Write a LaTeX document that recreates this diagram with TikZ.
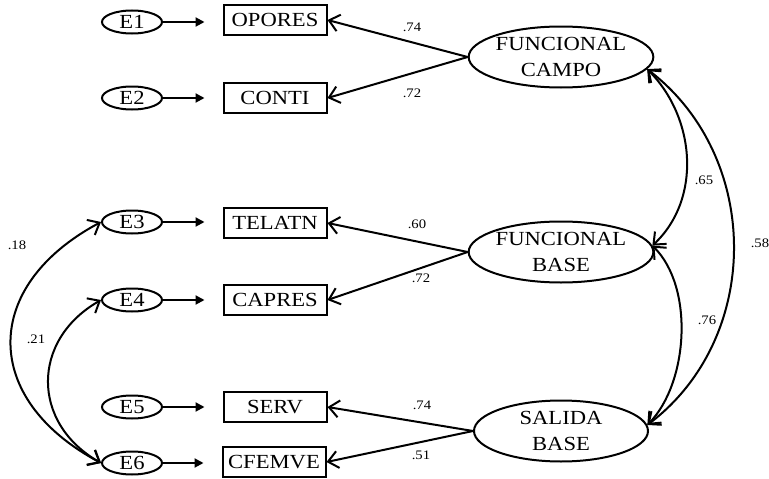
\documentclass[tikz,border=0pt]{standalone}
\usepackage{fontspec}
\setmainfont{Liberation Serif}[FakeStretch=1.13]
\usetikzlibrary{shapes.geometric,arrows.meta}
\tikzset{
  err/.style={draw,ellipse,line width=2pt,minimum width=60pt,minimum height=23pt,inner sep=0pt,font=\fontsize{20}{22}\selectfont},
  obs/.style={draw,rectangle,line width=2pt,minimum width=103pt,minimum height=30pt,inner sep=0pt,font=\fontsize{20}{22}\selectfont},
  lat/.style={draw,ellipse,line width=2pt,minimum width=174pt,minimum height=61pt,inner sep=0pt,align=center,font=\fontsize{20}{26}\selectfont},
  errarr/.style={line width=2pt,-{Triangle[length=9pt,width=9pt]},shorten >=18pt},
  load/.style={line width=2pt,-{Straight Barb[length=10pt,width=17pt,line width=2pt]}},
  cov/.style={line width=2pt,{Straight Barb[length=10pt,width=17pt,line width=2pt]}-{Straight Barb[length=10pt,width=17pt,line width=2pt]}},
  lbl/.style={font=\fontsize{13}{15}\selectfont,inner sep=0pt}
}
\begin{document}
\begin{tikzpicture}[x=1pt,y=-1pt]
\useasboundingbox (0,0) rectangle (769,479);
% error terms
\node[err] (e1) at (132,22) {E1};
\node[err] (e2) at (132,98) {E2};
\node[err] (e3) at (132,222) {E3};
\node[err] (e4) at (132,300) {E4};
\node[err] (e5) at (132,407) {E5};
\node[err] (e6) at (132,463) {E6};
% observed
\node[obs] (opores) at (275,20) {OPORES};
\node[obs] (conti) at (275,98) {CONTI};
\node[obs] (telatn) at (275,223) {TELATN};
\node[obs] (capres) at (275,300) {CAPRES};
\node[obs] (serv) at (275,407) {SERV};
\node[obs] (cfemve) at (274,462) {CFEMVE};
% latent
\node[lat] (fc) at (561,57) {FUNCIONAL\\CAMPO};
\node[lat] (fb) at (561,252) {FUNCIONAL\\BASE};
\node[lat] (sb) at (561,431) {SALIDA\\BASE};
% error arrows
\draw[errarr] (e1) -- (e1 -| opores.west);
\draw[errarr] (e2) -- (e2 -| conti.west);
\draw[errarr] (e3) -- (e3 -| telatn.west);
\draw[errarr] (e4) -- (e4 -| capres.west);
\draw[errarr] (e5) -- (e5 -| serv.west);
\draw[errarr] (e6) -- (e6 -| cfemve.west);
% loadings
\draw[load] (fc.west) -- (opores.east);
\draw[load] (fc.west) -- (conti.east);
\draw[load] (fb.west) -- (telatn.east);
\draw[load] (fb.west) -- (capres.east);
\draw[load] (sb.west) -- (serv.east);
\draw[load] (sb.west) -- (cfemve.east);
% covariances
\draw[cov] (e6.west) .. controls +(-120,-64) and +(-120,64) .. (e3.west);
\draw[cov] (e6.west) .. controls +(-70,-40) and +(-70,40) .. (e4.west);
\draw[cov] (fc.-8) .. controls +(48,48) and +(50,-47) .. (fb.4);
\draw[cov] (fb.4) .. controls +(42,42) and +(41,-42) .. (sb.4);
\draw[cov] (fc.-8) .. controls +(115,88) and +(115,-87) .. (sb.4);
% labels
\node[lbl] (l1) at (412,27) {.74};
\node[lbl] (l2) at (412,93) {.72};
\node[lbl] (l3) at (417,224) {.60};
\node[lbl] (l4) at (421,278) {.72};
\node[lbl] (l5) at (422,405) {.74};
\node[lbl] (l6) at (421,455) {.51};
\node[lbl] (l7) at (17,245) {.18};
\node[lbl] (l8) at (36,339) {.21};
\node[lbl] (l9) at (704,180) {.65};
\node[lbl] (l10) at (707,320) {.76};
\node[lbl] (l11) at (760,243) {.58};
\end{tikzpicture}
\end{document}
